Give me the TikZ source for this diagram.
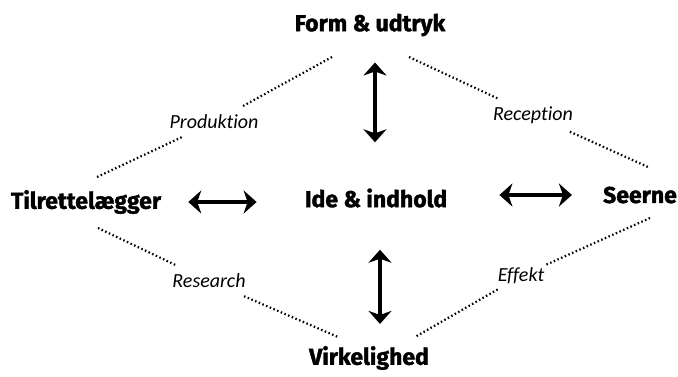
\documentclass[tikz,border=0pt]{standalone}
\usepackage{fontspec}
\setmainfont{Fira Sans}[BoldFeatures={FakeBold=1.6}]
\newfontfamily\lblfont{Carlito}[Ligatures=NoCommon]
\usetikzlibrary{arrows.meta}

\tikzset{
    main/.style={font=\fontsize{23}{26}\selectfont\bfseries, inner sep=0pt},
    lbl/.style={font=\lblfont\itshape\fontsize{20}{23}\selectfont, inner xsep=0pt, inner ysep=8pt},
    bigarrow/.style={line width=4pt, {Stealth[length=13pt,width=23pt,inset=4pt]}-{Stealth[length=13pt,width=23pt,inset=4pt]}},
    dotline/.style={line width=2.2pt, dash pattern=on 1.5pt off 2.5pt}
}

\begin{document}
\begin{tikzpicture}[x=1pt, y=-1pt, node distance=170pt]
    \useasboundingbox (0,0) rectangle (678,376);

    \node [main] (ide) at (376,198)                           {Ide \& indhold};
    \node [main] [above of=ide] [yshift=3]  [xshift=-6]  (form)   {Form \& udtryk};
    \node [main] [below of=ide] [yshift=10] [xshift=-7]  (virk)   {Virkelighed};
    \node [main] [left of=ide]  [yshift=-4] [xshift=-120] (tilr)  {Tilrettelægger};
    \node [main] [right of=ide] [yshift=3]  [xshift=94]  (seerne) {Seerne};

    \node [lbl] (prod) at (214,122) {Produktion};
    \node [lbl] (rec)  at (533,115) {Reception};
    \node [lbl] (res)  at (209,281) {Research};
    \node [lbl] (eff)  at (521,276) {Effekt};

    \draw [bigarrow, shorten <=46pt, shorten >=26pt] ([xshift=-1]ide.north) -- ([xshift=-1]ide.north |- form.south);
    \draw [bigarrow, shorten <=42pt, shorten >=22pt] ([xshift=4]ide.south) -- ([xshift=4]ide.south |- virk.north);
    \draw [bigarrow, shorten <=27pt, shorten >=48pt] (tilr.east) -- (tilr.east -| ide.west);
    \draw [bigarrow, shorten <=52pt, shorten >=31pt] (seerne.west -| ide.east) -- (seerne.west);

    \draw [dotline] ([shift={(-38,32)}]form.center)  -- (prod) -- ([shift={(11,-25)}]tilr.center);
    \draw [dotline] ([shift={(39,32)}]form.center)   -- (rec)  -- ([shift={(8,-28)}]seerne.center);
    \draw [dotline] ([shift={(12,26)}]tilr.center)   -- (res)  -- ([shift={(-31,-21)}]virk.center);
    \draw [dotline] ([shift={(10,23)}]seerne.center) -- (eff)  -- ([shift={(46,-21)}]virk.center);
\end{tikzpicture}
\end{document}
